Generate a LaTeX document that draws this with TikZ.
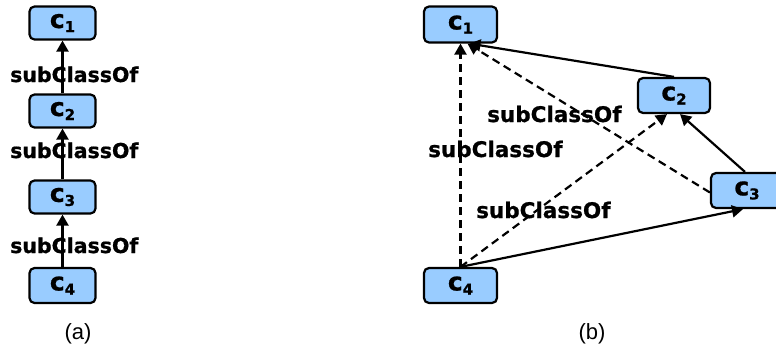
\documentclass[tikz,border=0pt]{standalone}
\usepackage{fontspec}
\setmainfont{DejaVu Sans}
\newfontfamily\lblfont{DejaVu Sans Bold}[FakeBold=0.8]
\newfontfamily\capfont{Liberation Sans}
\usetikzlibrary{arrows.meta}
\definecolor{boxblue}{HTML}{99CCFF}
\tikzset{
  cls/.style={draw=black, line width=2.2pt, fill=boxblue, rounded corners=5pt,
    minimum width=66pt, minimum height=33pt, inner sep=0pt,
    font=\fontsize{25}{25}\selectfont\lblfont},
  clsb/.style={cls, minimum width=73pt, minimum height=36pt},
  rel/.style={line width=2.2pt, -{Triangle[width=12pt,length=11pt]}},
  reld/.style={rel, dash pattern=on 8pt off 5pt},
  lbla/.style={anchor=base west, inner sep=0pt, font=\fontsize{20.5}{20.5}\selectfont\lblfont},
  lblb/.style={anchor=base west, inner sep=0pt, font=\fontsize{21.5}{21.5}\selectfont\lblfont},
  captext/.style={inner sep=0pt, font=\fontsize{22}{22}\selectfont\capfont}
}
\newcommand{\cn}[1]{c\raisebox{-0.3ex}{\fontsize{15}{15}\selectfont #1}}
\begin{document}
\begin{tikzpicture}[x=1pt,y=-1pt]
\useasboundingbox (0,0) rectangle (776,351);
\begin{scope}
\clip (0,0) rectangle (776,351);
% panel (a)
\node[cls] (a1) at (62.5,23) {\cn{1}};
\node[cls] (a2) at (62.5,111) {\cn{2}};
\node[cls] (a3) at (62.5,197) {\cn{3}};
\node[cls, minimum height=35pt] (a4) at (62.5,285.5) {\cn{4}};
\node[lbla] (la1) at (10,82) {subClassOf};
\node[lbla] (la2) at (10,158) {subClassOf};
\node[lbla] (la3) at (10,253) {subClassOf};
\draw[rel] (a2.north) -- (a1.south);
\draw[rel] (a3.north) -- (a2.south);
\draw[rel] (a4.north) -- (a3.south);
% panel (b)
\node[clsb] (b1) at (460.5,24.5) {\cn{1}};
\node[clsb, minimum width=72pt, minimum height=35pt] (b2) at (674,95.5) {\cn{2}};
\node[clsb, minimum width=72pt, minimum height=35pt] (b3) at (747,190.5) {\cn{3}};
\node[clsb, minimum height=35pt] (b4) at (460.5,285.5) {\cn{4}};
\node[lblb] (lb1) at (487,122) {subClassOf};
\node[lblb] (lb2) at (428,157) {subClassOf};
\node[lblb] (lb3) at (476,218) {subClassOf};
\draw[reld] (b4.north) -- (b1.south);
\draw[reld] (b4.north) -- ([xshift=-7pt]b2.south);
\draw[reld] ([yshift=-2pt]b3.west) -- ([xshift=7pt]b1.south);
\draw[rel] (b2.north) -- ([xshift=9pt]b1.south);
\draw[rel] ([xshift=-2pt]b3.north) -- ([xshift=6pt]b2.south);
\draw[rel] (b4.north) -- ([xshift=-4pt]b3.south);
\end{scope}
\node[captext] (ca) at (78,334) {(a)};
\node[captext] (cb) at (592,334) {(b)};
\end{tikzpicture}
\end{document}
